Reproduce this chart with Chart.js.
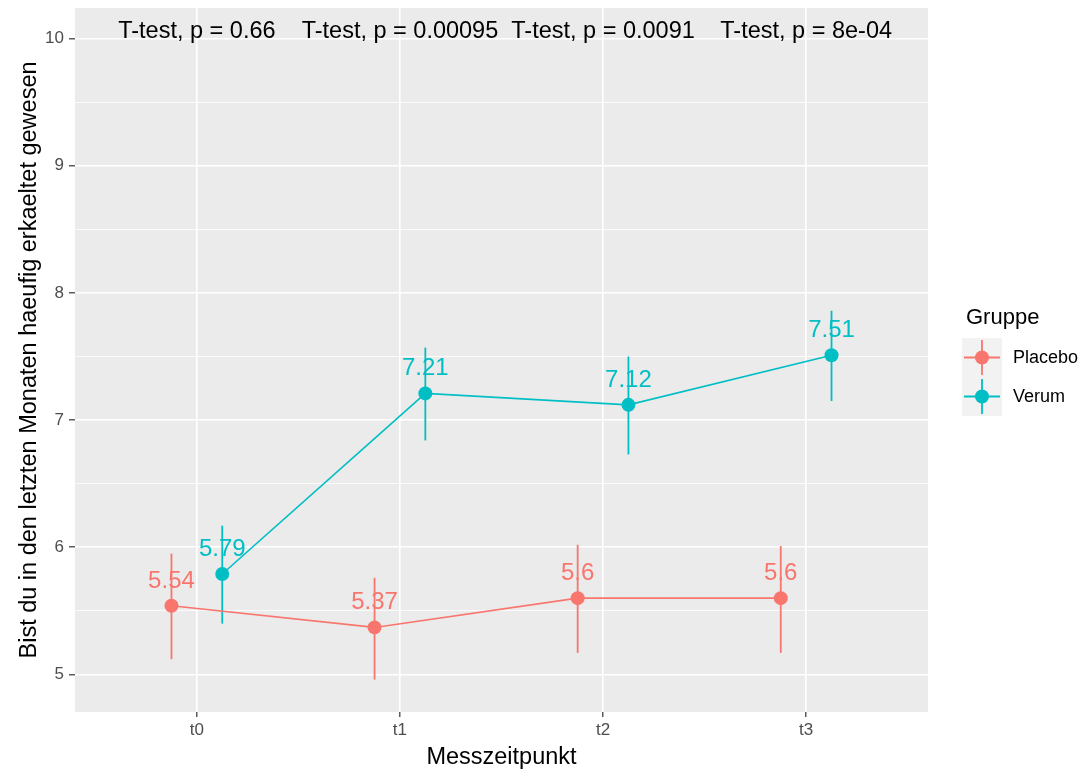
<!DOCTYPE html>
<html>
<head>
<meta charset="utf-8">
<script src="https://cdn.jsdelivr.net/npm/chart.js@4.4.1/dist/chart.umd.min.js"></script>
<style>
  html, body { margin: 0; padding: 0; background: #ffffff; }
  #wrap { width: 1084px; height: 774px; position: relative; }
</style>
</head>
<body>
<div id="wrap"><canvas id="c" width="1084" height="774"></canvas></div>
<script>
const categories = ['t0', 't1', 't2', 't3'];
const placeboMean = [5.54, 5.37, 5.60, 5.60];
const placeboLow  = [5.12, 4.96, 5.17, 5.17];
const placeboHigh = [5.95, 5.76, 6.02, 6.01];
const verumMean = [5.79, 7.21, 7.12, 7.51];
const verumLow  = [5.40, 6.84, 6.73, 7.15];
const verumHigh = [6.17, 7.57, 7.50, 7.86];
const pLabels = ['T-test, p = 0.66', 'T-test, p = 0.00095', 'T-test, p = 0.0091', 'T-test, p = 8e-04'];
const pLabelY = 10;
const yTicks = [5, 6, 7, 8, 9, 10];
const yMinorTicks = [5.5, 6.5, 7.5, 8.5, 9.5];
const groupNames = ['Placebo', 'Verum'];
const legendTitle = 'Gruppe';
const xTitle = 'Messzeitpunkt';
const yTitle = 'Bist du in den letzten Monaten haeufig erkaeltet gewesen';

const COLORS = ['#F8766D', '#00BFC4'];
const DODGE = 0.125;
const FONT = '"Liberation Sans", Arial, sans-serif';

const groups = [
  { mean: placeboMean, low: placeboLow, high: placeboHigh, offset: -DODGE },
  { mean: verumMean, low: verumLow, high: verumHigh, offset: DODGE }
];

function fmt(v) { return String(Number(v.toFixed(2))); }

const panelBg = {
  id: 'panelBg',
  beforeDraw(chart) {
    const { ctx, chartArea: a } = chart;
    ctx.save();
    ctx.fillStyle = '#EBEBEB';
    ctx.fillRect(a.left, a.top, a.right - a.left, a.bottom - a.top);
    ctx.restore();
  }
};

const errorBars = {
  id: 'errorBars',
  beforeDatasetsDraw(chart) {
    const { ctx } = chart;
    const xs = chart.scales.x, ys = chart.scales.y;
    ctx.save();
    ctx.lineWidth = 1.8;
    groups.forEach((g, gi) => {
      ctx.strokeStyle = COLORS[gi];
      g.mean.forEach((m, i) => {
        const px = xs.getPixelForValue(i + g.offset);
        ctx.beginPath();
        ctx.moveTo(px, ys.getPixelForValue(g.low[i]));
        ctx.lineTo(px, ys.getPixelForValue(g.high[i]));
        ctx.stroke();
      });
    });
    ctx.restore();
  }
};

const textLayer = {
  id: 'textLayer',
  afterDatasetsDraw(chart) {
    const { ctx } = chart;
    const xs = chart.scales.x, ys = chart.scales.y;
    ctx.save();
    ctx.font = '24px ' + FONT;
    ctx.textAlign = 'center';
    ctx.textBaseline = 'alphabetic';
    groups.forEach((g, gi) => {
      ctx.fillStyle = COLORS[gi];
      g.mean.forEach((m, i) => {
        const px = xs.getPixelForValue(i + g.offset);
        const py = ys.getPixelForValue(m);
        ctx.fillText(fmt(m), px, py - 18);
      });
    });
    ctx.font = '23.5px ' + FONT;
    ctx.fillStyle = '#000000';
    pLabels.forEach((t, i) => {
      ctx.fillText(t, xs.getPixelForValue(i), ys.getPixelForValue(pLabelY) - 0.5);
    });
    ctx.restore();
  },
  afterDraw(chart) {
    const { ctx } = chart;
    ctx.save();
    ctx.fillStyle = '#000000';
    ctx.font = '22px ' + FONT;
    ctx.textAlign = 'left';
    ctx.textBaseline = 'middle';
    ctx.fillText(legendTitle, 966, 318);
    const keyX = 962, keyW = 40, keyH = 39, keyTop = 338;
    groupNames.forEach((name, gi) => {
      const top = keyTop + gi * keyH;
      ctx.fillStyle = '#F2F2F2';
      ctx.fillRect(keyX, top, keyW, keyH);
      const cx = keyX + keyW / 2, cy = top + keyH / 2;
      ctx.strokeStyle = COLORS[gi];
      ctx.lineWidth = 1.8;
      ctx.beginPath();
      ctx.moveTo(keyX + 2, cy); ctx.lineTo(keyX + keyW - 2, cy);
      ctx.moveTo(cx, top + 2); ctx.lineTo(cx, top + keyH - 2);
      ctx.stroke();
      ctx.fillStyle = COLORS[gi];
      ctx.beginPath();
      ctx.arc(cx, cy, 7, 0, Math.PI * 2);
      ctx.fill();
      ctx.fillStyle = '#000000';
      ctx.font = '18px ' + FONT;
      ctx.fillText(name, 1013, cy + 1);
    });
    ctx.restore();
  }
};

const datasets = groups.map((g, gi) => ({
  label: groupNames[gi],
  data: g.mean.map((m, i) => ({ x: i + g.offset, y: m })),
  showLine: true,
  borderColor: COLORS[gi],
  backgroundColor: COLORS[gi],
  borderWidth: 1.6,
  pointRadius: 7,
  pointHoverRadius: 7,
  pointBorderWidth: 0,
  tension: 0
}));

new Chart(document.getElementById('c'), {
  type: 'scatter',
  data: { datasets },
  options: {
    responsive: false,
    animation: false,
    events: [],
    layout: { padding: { left: 0, right: 156, top: 8, bottom: 0 } },
    plugins: { legend: { display: false }, tooltip: { enabled: false } },
    scales: {
      x: {
        type: 'linear',
        min: -0.6,
        max: 3.6,
        afterBuildTicks: s => { s.ticks = categories.map((c, i) => ({ value: i })); },
        afterFit: s => { s.height = 62; s.paddingLeft = 0; s.paddingRight = 0; },
        ticks: {
          autoSkip: false,
          maxRotation: 0,
          padding: 3,
          color: '#4D4D4D',
          font: { family: FONT, size: 17 },
          callback: v => categories[v]
        },
        grid: {
          color: '#FFFFFF',
          lineWidth: 1.6,
          drawTicks: true,
          tickLength: 5,
          tickColor: '#333333',
          tickWidth: 1.2
        },
        border: { display: false },
        title: {
          display: true,
          text: xTitle,
          color: '#000000',
          font: { family: FONT, size: 23.5 },
          padding: { top: 0, bottom: 2 }
        }
      },
      y: {
        type: 'linear',
        min: 4.705,
        max: 10.24,
        afterBuildTicks: s => {
          s.ticks = yTicks.concat(yMinorTicks).sort((a, b) => a - b).map(v => ({ value: v }));
        },
        afterFit: s => { s.width = 75; s.paddingTop = 0; s.paddingBottom = 0; },
        ticks: {
          autoSkip: false,
          padding: 5,
          color: '#4D4D4D',
          font: { family: FONT, size: 17 },
          callback: v => (yTicks.includes(v) ? String(v) : '')
        },
        grid: {
          color: '#FFFFFF',
          lineWidth: ctx => (yTicks.includes(ctx.tick && ctx.tick.value) ? 1.6 : 0.8),
          drawTicks: true,
          tickLength: 6,
          tickColor: ctx => (yTicks.includes(ctx.tick && ctx.tick.value) ? '#333333' : 'rgba(0,0,0,0)'),
          tickWidth: 1.2
        },
        border: { display: false },
        title: {
          display: true,
          text: yTitle,
          color: '#000000',
          font: { family: FONT, size: 23.5 },
          padding: { top: 15, bottom: 0 }
        }
      }
    }
  },
  plugins: [panelBg, errorBars, textLayer]
});
</script>
</body>
</html>
